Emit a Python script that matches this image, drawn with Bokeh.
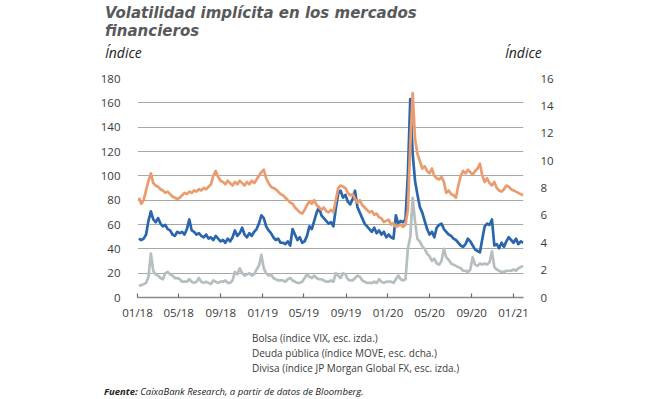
import pandas as pd
from bokeh.plotting import figure
from bokeh.layouts import column
from bokeh.models import (Range1d, LinearAxis, FixedTicker, DatetimeTickFormatter,
                          Legend, LegendItem, Div)
from bokeh.embed import file_html
from bokeh.resources import INLINE

# ---------------- data (weekly) ----------------
fechas = pd.date_range("2018-01-05", periods=161, freq="7D")

# Bolsa: VIX (left axis)
vix = [
    10, 10, 11, 12, 17, 36, 22, 19, 18, 16, 15, 20, 21, 19, 18, 16, 16,
    15, 13, 13, 13, 15, 13, 12, 13, 16, 13, 12, 13, 12, 11, 14, 13, 12, 13,
    13, 14, 12, 12, 14, 21, 19, 24, 20, 18, 19, 20, 18, 19, 23, 26, 35,
    24, 20, 18, 19, 16, 15, 14, 14, 14, 13, 15, 16, 14, 13, 12, 12, 13,
    16, 19, 17, 16, 18, 16, 15, 15, 14, 13, 13, 14, 13, 20, 18, 16, 20, 19,
    15, 14, 14, 16, 18, 17, 14, 13, 12, 12, 12, 13, 12, 15, 13, 12, 13,
    13, 13, 12, 15, 18, 15, 14, 15, 40, 50, 82, 62, 48, 46, 42, 40, 36,
    34, 30, 32, 28, 27, 30, 40, 33, 31, 28, 27, 26, 25, 24, 22, 22, 21, 23,
    33, 27, 26, 28, 27, 28, 27, 29, 38, 25, 23, 22, 21, 21, 22, 22, 22,
    23, 22, 24, 25, 26,
]

# Deuda publica: MOVE (right axis)
move = [
    4.3, 4.2, 4.3, 4.6, 5.6, 6.3, 5.7, 5.5, 5.8, 5.4, 5.2, 5.3, 5.0, 4.9, 4.6, 4.5, 4.8,
    4.7, 4.8, 4.6, 5.0, 5.7, 4.9, 4.8, 4.6, 4.7, 4.5, 4.4, 4.6, 4.3, 4.4, 4.2, 4.5, 4.3, 4.1,
    4.2, 4.0, 4.3, 4.1, 4.4, 4.9, 4.5, 4.7, 5.1, 4.6, 4.4, 4.7, 4.5, 4.8, 5.0, 5.4, 6.0,
    5.8, 5.2, 4.9, 4.7, 4.4, 4.2, 4.3, 4.0, 4.0, 3.9, 4.1, 3.8, 5.0, 4.6, 4.2, 4.4, 4.0,
    4.1, 4.5, 5.2, 5.0, 5.6, 6.2, 6.6, 6.0, 5.8, 5.6, 5.4, 5.5, 5.2, 6.5, 7.6, 7.8, 7.3, 7.5,
    7.0, 6.8, 7.2, 7.8, 6.6, 6.2, 5.8, 5.4, 5.2, 5.0, 4.8, 5.1, 4.7, 4.9, 4.6, 4.8, 4.4,
    4.6, 4.4, 4.3, 6.0, 5.4, 5.6, 5.5, 5.7, 9.0, 14.5, 10.5, 8.5, 7.5, 6.6, 6.2, 5.6, 5.0,
    4.6, 4.8, 4.4, 5.1, 5.3, 5.4, 5.0, 4.8, 4.6, 4.5, 4.3, 4.2, 4.0, 3.8, 3.7, 3.9, 4.3, 4.1,
    3.8, 3.5, 3.4, 3.3, 4.3, 5.2, 5.4, 5.3, 5.7, 3.8, 3.9, 3.6, 4.0, 3.7, 4.1, 4.4, 4.2,
    4.0, 4.3, 3.9, 4.1, 4.0,
]

# Divisa: JP Morgan Global FX volatility (left axis)
fx = [
    82, 77, 80, 88, 96, 102, 94, 92, 91, 89, 88, 86, 87, 85, 83, 82, 81,
    82, 84, 86, 85, 87, 86, 88, 87, 89, 88, 90, 89, 91, 93, 100, 104, 99, 96,
    95, 93, 96, 94, 92, 95, 93, 96, 94, 92, 95, 93, 96, 94, 97, 100, 103,
    105, 98, 94, 91, 90, 89, 87, 85, 84, 82, 80, 78, 77, 74, 72, 70, 69,
    72, 76, 79, 77, 80, 76, 74, 72, 74, 71, 70, 72, 70, 80, 90, 92, 91, 90,
    86, 84, 85, 81, 78, 80, 76, 74, 72, 70, 71, 68, 69, 66, 65, 62, 63,
    64, 60, 61, 58, 59, 60, 58, 60, 72, 125, 168, 130, 118, 112, 106, 108, 104,
    102, 106, 100, 98, 97, 99, 95, 86, 88, 85, 84, 82, 92, 100, 104, 102, 105, 103,
    101, 104, 106, 110, 100, 95, 98, 94, 92, 95, 90, 88, 87, 89, 92, 91, 89,
    88, 87, 86, 85, 84,
]

left_ticks = [0, 20, 40, 60, 80, 100, 120, 140, 160, 180]
right_ticks = [0, 2, 4, 6, 8, 10, 12, 14, 16]
x_tick_dates = ["2018-01-01", "2018-05-01", "2018-09-01", "2019-01-01", "2019-05-01",
                "2019-09-01", "2020-01-01", "2020-05-01", "2020-09-01", "2021-01-01"]

titulo = ["Volatilidad implícita en los mercados", "financieros"]
eje = "Índice"
series_labels = ["Bolsa (índice VIX, esc. izda.)",
                 "Deuda pública (índice MOVE, esc. dcha.)",
                 "Divisa (índice JP Morgan Global FX, esc. izda.)"]
fuente = ("Fuente:", "CaixaBank Research, a partir de datos de Bloomberg.")
colors = ["#b5bec1", "#2a66ad", "#eb9c6e"]

# ---------------- layout (page starts at 0,0: Bokeh's page has no margin) ----------------
W = 670
D1, H1, H2, D2 = 70, 252, 53, 24     # header div, chart, legend strip, source div
FL, FR = 137, 523                    # frame left / right (px)
FONT = "Open Sans"
TXT = "#3a3a3a"
LW = 2.7


def span(text, x, top, size, weight, color, lh=None, family="Open Sans"):
    lh = lh or size
    style = (f"position:absolute;white-space:nowrap;left:{x}px;top:{top}px;"
             f"font-family:{family};font-size:{size}px;line-height:{lh}px;"
             f"font-style:italic;font-weight:{weight};color:{color};")
    return f'<span style="{style}">{text}</span>'


# ---- header (title + axis units) ----
head_html = (
    f'<div style="position:relative;width:{W}px;height:{D1}px;">'
    + span(titulo[0], 105, 4, 15, "bold", "#58595b", lh=18, family="DejaVu Sans")
    + span(titulo[1], 105, 22, 15, "bold", "#58595b", lh=18, family="DejaVu Sans")
    + span(eje, 105, 46, 14, "normal", "#222222")
    + span(eje, 505, 46, 14, "normal", "#222222")
    + "</div>"
)
header = Div(text=head_html, width=W, height=D1, margin=(0, 0, 0, 0))

# ---- main chart ----
x_start = pd.Timestamp("2018-01-01")
x_end = pd.Timestamp("2021-01-30")

p = figure(width=W, height=H1, x_axis_type="datetime",
           x_range=Range1d(x_start, x_end), y_range=Range1d(0, 180),
           output_backend="svg", toolbar_location=None, title=None,
           min_border_left=FL, min_border_right=W - FR,
           min_border_top=8, min_border_bottom=H1 - 228)
p.outline_line_color = None
p.extra_y_ranges = {"move": Range1d(0, 16)}

p.xgrid.visible = False
p.ygrid.ticker = FixedTicker(ticks=left_ticks)
p.ygrid.grid_line_color = "#a8a8a8"
p.ygrid.grid_line_width = 1.2

ly = p.yaxis[0]
ly.ticker = FixedTicker(ticks=left_ticks)
ry = LinearAxis(y_range_name="move", ticker=FixedTicker(ticks=right_ticks))
p.add_layout(ry, "right")

for ax in [ly, ry]:
    ax.axis_line_color = None
    ax.major_tick_line_color = None
    ax.minor_tick_line_color = None
    ax.major_label_standoff = 11
    ax.major_label_text_font = FONT
    ax.major_label_text_font_size = "11.5px"
    ax.major_label_text_color = TXT

bx = p.xaxis[0]
bx.ticker = FixedTicker(ticks=[pd.Timestamp(d).value / 1e6 for d in x_tick_dates])
bx.formatter = DatetimeTickFormatter(days="%m/%y", months="%m/%y", years="%m/%y",
                                     hours="%m/%y", minutes="%m/%y")
bx.axis_line_color = "#8a8a8a"
bx.axis_line_width = 1.5
bx.major_tick_line_color = "#6a6a6a"
bx.major_tick_line_width = 1.2
bx.major_tick_in = 4
bx.major_tick_out = 0
bx.minor_tick_line_color = None
bx.major_label_standoff = 7
bx.major_label_text_font = FONT
bx.major_label_text_font_size = "11.5px"
bx.major_label_text_color = TXT

p.line(fechas, vix, line_color=colors[0], line_width=LW, line_join="round")
p.line(fechas, move, y_range_name="move", line_color=colors[1],
       line_width=LW, line_join="round")
p.line(fechas, fx, line_color=colors[2], line_width=LW, line_join="round")

# ---- legend strip ----
q = figure(width=W, height=H2, output_backend="svg", toolbar_location=None,
           title=None, x_axis_location=None, y_axis_location=None,
           min_border_left=FL, min_border_right=W - FR,
           min_border_top=8, min_border_bottom=0)
q.outline_line_color = None
q.xgrid.visible = False
q.ygrid.visible = False
rq = [q.line([], [], line_color=c, line_width=LW) for c in colors]
legend = Legend(items=[LegendItem(label=t, renderers=[r]) for t, r in zip(series_labels, rq)],
                location=(220 - FL, 0), orientation="vertical",
                glyph_width=22, glyph_height=15, label_height=15,
                spacing=0, padding=0, margin=0, label_standoff=10,
                border_line_color=None, background_fill_alpha=0,
                label_text_font=FONT, label_text_font_size="10px",
                label_text_color=TXT)
q.add_layout(legend)

# ---- source ----
src_html = (
    f'<div style="position:relative;width:{W}px;height:{D2}px;">'
    + span(f"<b>{fuente[0]}</b> {fuente[1]}", 104, 10, 9.5, "normal", "#222222", lh=14)
    + "</div>"
)
source = Div(text=src_html, width=W, height=D2, margin=(0, 0, 0, 0))

layout = column(header, p, q, source, spacing=0)
open("out.html", "w").write(file_html(layout, INLINE))
